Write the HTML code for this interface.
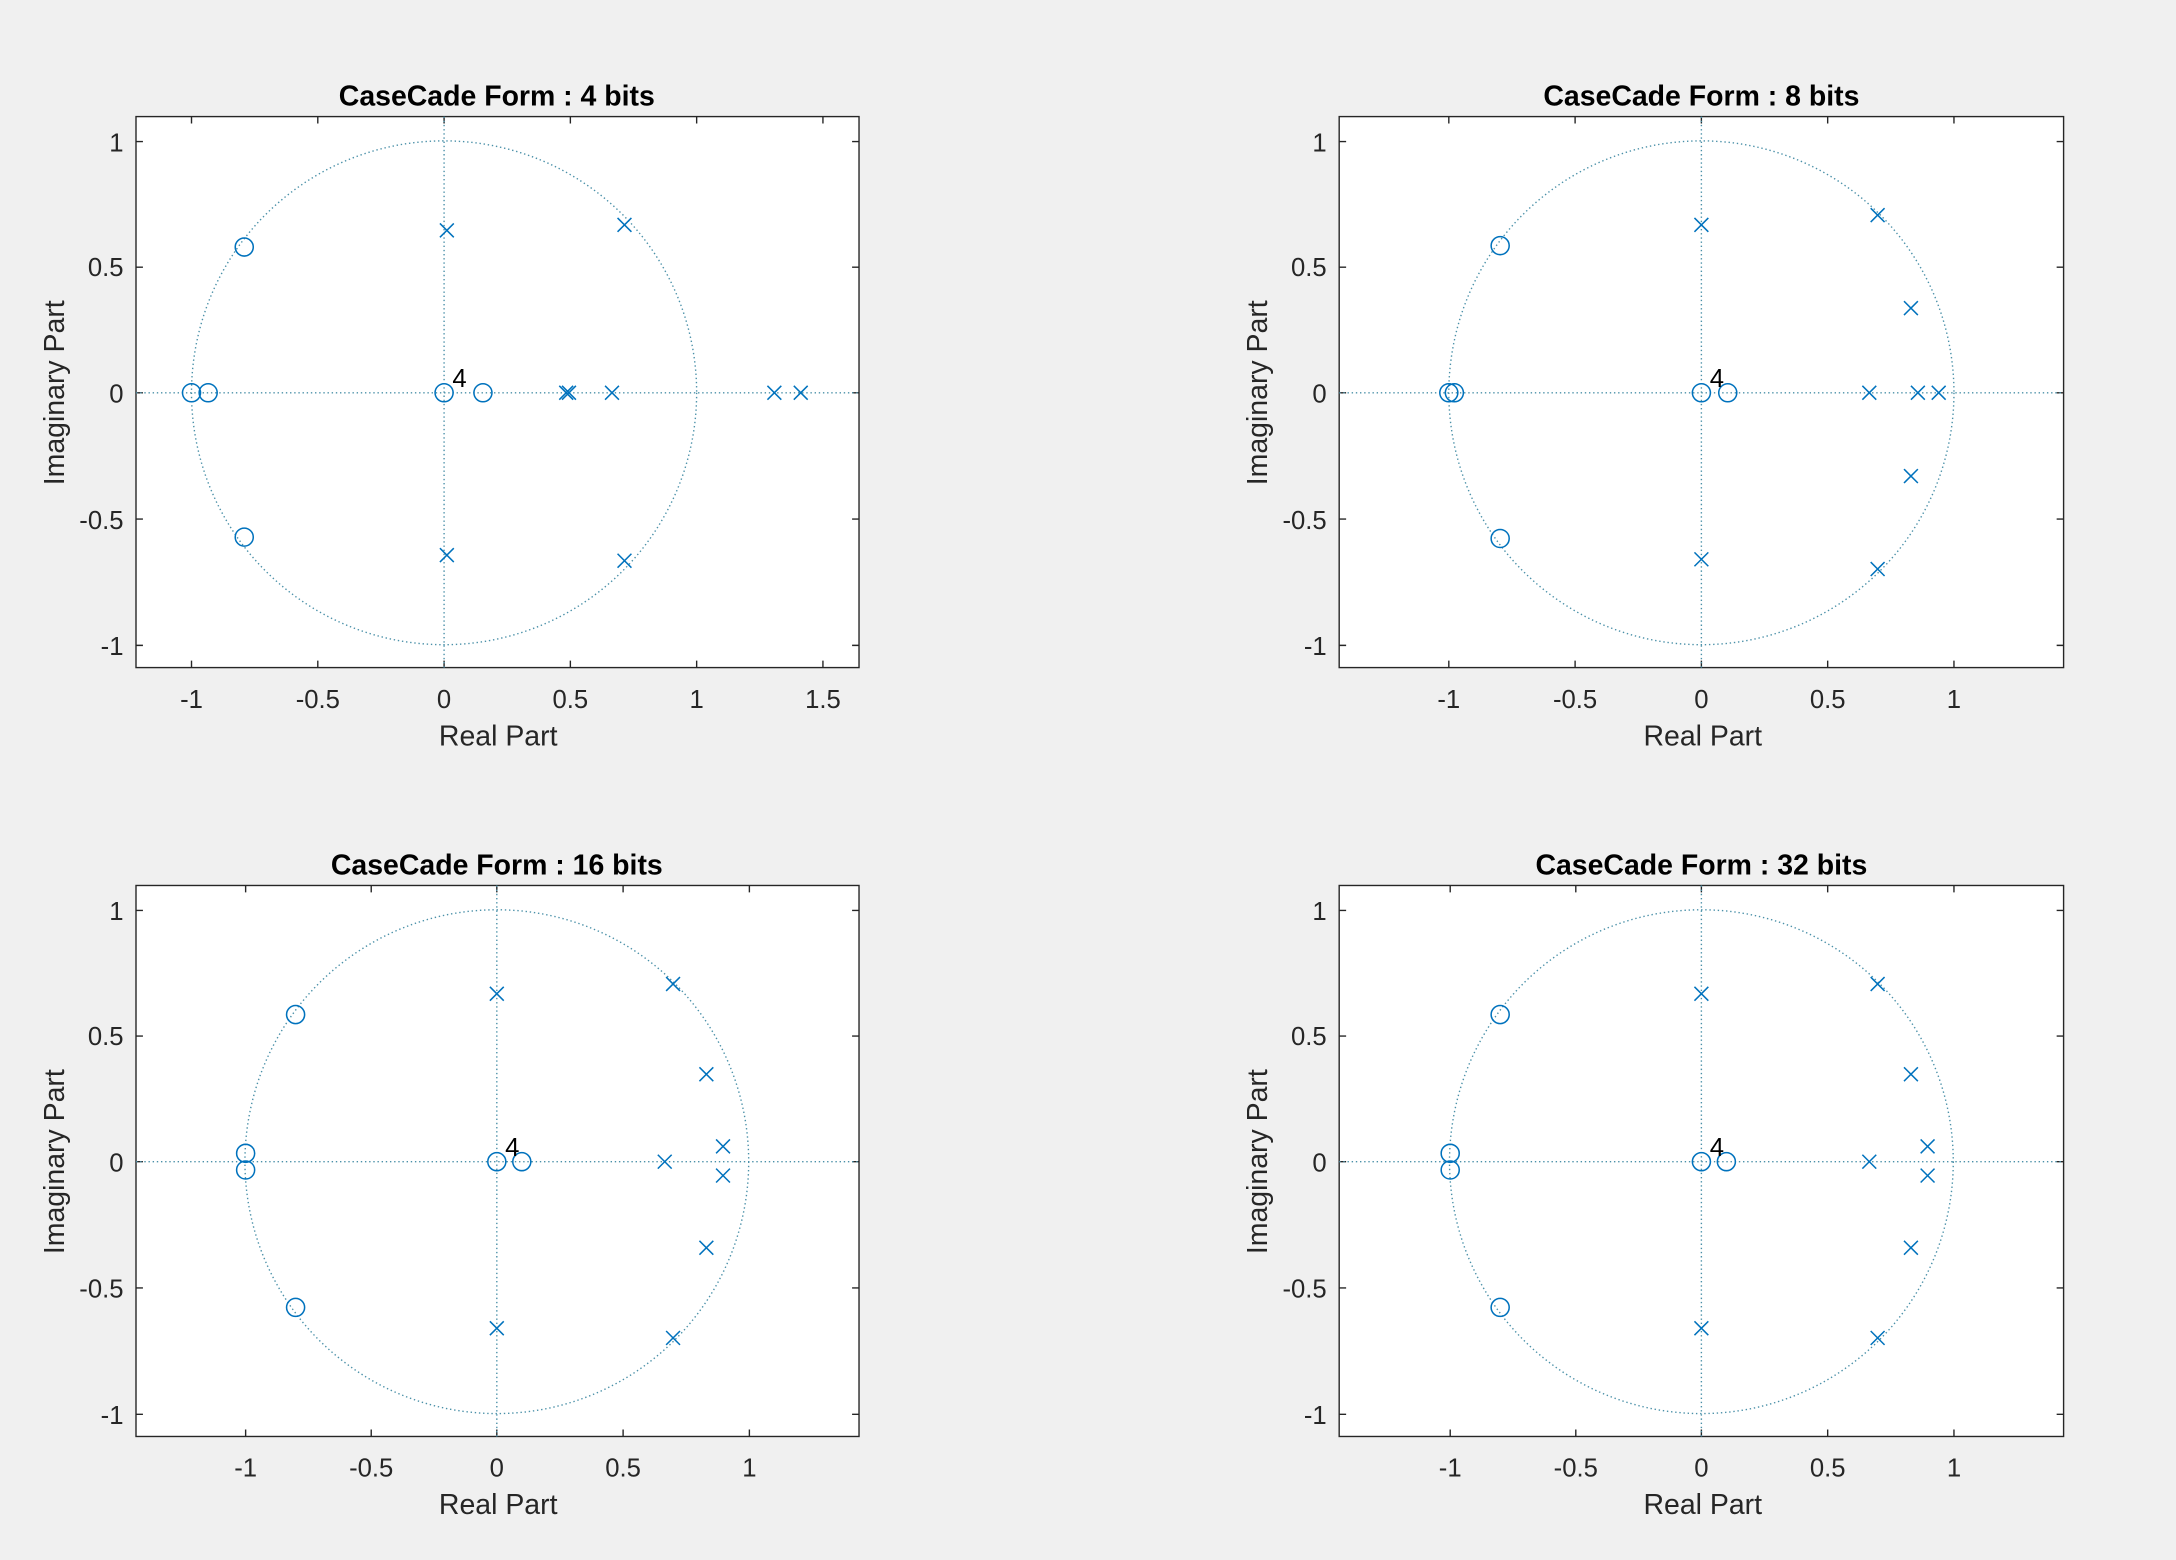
<!DOCTYPE html>
<html><head><meta charset="utf-8"><style>
html,body{margin:0;padding:0;background:#f0f0f0;}
svg{display:block}
text{font-family:"Liberation Sans",Arial,sans-serif;fill:#262626}
.t{font-size:20.5px;font-weight:bold;fill:#000}
.tk{font-size:18.5px}
.lb{font-size:20.5px}
.ax{fill:#fff;stroke:#262626;stroke-width:1}
.g{stroke:#4a90a8;stroke-width:1;stroke-dasharray:1 2;fill:none}
.m{stroke:#0072bd;stroke-width:1.1;fill:none}
.tick{stroke:#262626;stroke-width:1}
</style></head><body>
<svg width="2176" height="1560" viewBox="0 0 1568 1124" preserveAspectRatio="none" xmlns="http://www.w3.org/2000/svg">
<defs>
<path id="x" d="M-5,-5L5,5M-5,5L5,-5" class="m"/>
<circle id="o" r="6.5" class="m"/>
</defs>

<!-- Plot 1 -->
<g>
<rect class="ax" x="98" y="84" width="521" height="397"/>
<g class="tick">
<path d="M138,481v-5M229,481v-5M320,481v-5M411,481v-5M502,481v-5M593,481v-5M138,84v5M229,84v5M320,84v5M411,84v5M502,84v5M593,84v5"/>
<path d="M98,102h5M98,192.5h5M98,283h5M98,374h5M98,465h5M619,102h-5M619,192.5h-5M619,283h-5M619,374h-5M619,465h-5"/>
</g>
<ellipse class="g" cx="320" cy="283" rx="182" ry="181.5"/>
<path class="g" d="M98,283H619M320,84V481"/>
<use href="#o" x="138" y="283"/><use href="#o" x="150" y="283"/><use href="#o" x="176" y="178"/><use href="#o" x="176" y="387"/><use href="#o" x="320" y="283"/><use href="#o" x="348" y="283"/>
<use href="#x" x="322" y="166"/><use href="#x" x="322" y="400"/><use href="#x" x="450" y="162"/><use href="#x" x="450" y="404"/><use href="#x" x="408" y="283"/><use href="#x" x="410" y="283"/><use href="#x" x="441" y="283"/><use href="#x" x="558" y="283"/><use href="#x" x="577" y="283"/>
<text x="326" y="279" class="tk" style="fill:#000">4</text>
<g class="tk" text-anchor="middle"><text x="138" y="510">-1</text><text x="229" y="510">-0.5</text><text x="320" y="510">0</text><text x="411" y="510">0.5</text><text x="502" y="510">1</text><text x="593" y="510">1.5</text></g>
<g class="tk" text-anchor="end"><text x="89" y="109">1</text><text x="89" y="199">0.5</text><text x="89" y="290">0</text><text x="89" y="381">-0.5</text><text x="89" y="472">-1</text></g>
<text class="t" x="358" y="76" text-anchor="middle">CaseCade Form : 4 bits</text>
<text class="lb" x="359" y="537" text-anchor="middle">Real Part</text>
<text class="lb" transform="translate(46,283) rotate(-90)" text-anchor="middle">Imaginary Part</text>
</g>

<!-- Plot 2 -->
<g>
<rect class="ax" x="965" y="84" width="522" height="397"/>
<g class="tick">
<path d="M1044,481v-5M1135,481v-5M1226,481v-5M1317,481v-5M1408,481v-5M1044,84v5M1135,84v5M1226,84v5M1317,84v5M1408,84v5"/>
<path d="M965,102h5M965,192.5h5M965,283h5M965,374h5M965,465h5M1487,102h-5M1487,192.5h-5M1487,283h-5M1487,374h-5M1487,465h-5"/>
</g>
<ellipse class="g" cx="1226" cy="283" rx="182" ry="181.5"/>
<path class="g" d="M965,283H1487M1226,84V481"/>
<use href="#o" x="1044" y="283"/><use href="#o" x="1048" y="283"/><use href="#o" x="1081" y="177"/><use href="#o" x="1081" y="388"/><use href="#o" x="1226" y="283"/><use href="#o" x="1245" y="283"/>
<use href="#x" x="1226" y="162"/><use href="#x" x="1226" y="403"/><use href="#x" x="1353" y="155"/><use href="#x" x="1353" y="410"/><use href="#x" x="1377" y="222"/><use href="#x" x="1377" y="343"/><use href="#x" x="1347" y="283"/><use href="#x" x="1382" y="283"/><use href="#x" x="1397" y="283"/>
<text x="1232" y="279" class="tk" style="fill:#000">4</text>
<g class="tk" text-anchor="middle"><text x="1044" y="510">-1</text><text x="1135" y="510">-0.5</text><text x="1226" y="510">0</text><text x="1317" y="510">0.5</text><text x="1408" y="510">1</text></g>
<g class="tk" text-anchor="end"><text x="956" y="109">1</text><text x="956" y="199">0.5</text><text x="956" y="290">0</text><text x="956" y="381">-0.5</text><text x="956" y="472">-1</text></g>
<text class="t" x="1226" y="76" text-anchor="middle">CaseCade Form : 8 bits</text>
<text class="lb" x="1227" y="537" text-anchor="middle">Real Part</text>
<text class="lb" transform="translate(913,283) rotate(-90)" text-anchor="middle">Imaginary Part</text>
</g>

<!-- Plot 3 -->
<g>
<rect class="ax" x="98" y="638" width="521" height="397"/>
<g class="tick">
<path d="M177,1035v-5M267.5,1035v-5M358,1035v-5M449,1035v-5M540,1035v-5M177,638v5M267.5,638v5M358,638v5M449,638v5M540,638v5"/>
<path d="M98,656h5M98,746.5h5M98,837h5M98,928h5M98,1019h5M619,656h-5M619,746.5h-5M619,837h-5M619,928h-5M619,1019h-5"/>
</g>
<ellipse class="g" cx="358" cy="837" rx="181.5" ry="181.5"/>
<path class="g" d="M98,837H619M358,638V1035"/>
<use href="#o" x="177" y="831"/><use href="#o" x="177" y="843"/><use href="#o" x="213" y="731"/><use href="#o" x="213" y="942"/><use href="#o" x="358" y="837"/><use href="#o" x="376" y="837"/>
<use href="#x" x="358" y="716"/><use href="#x" x="358" y="957"/><use href="#x" x="485" y="709"/><use href="#x" x="485" y="964"/><use href="#x" x="509" y="774"/><use href="#x" x="509" y="899"/><use href="#x" x="479" y="837"/><use href="#x" x="521" y="826"/><use href="#x" x="521" y="847"/>
<text x="364" y="833" class="tk" style="fill:#000">4</text>
<g class="tk" text-anchor="middle"><text x="177" y="1064">-1</text><text x="267.5" y="1064">-0.5</text><text x="358" y="1064">0</text><text x="449" y="1064">0.5</text><text x="540" y="1064">1</text></g>
<g class="tk" text-anchor="end"><text x="89" y="663">1</text><text x="89" y="753">0.5</text><text x="89" y="844">0</text><text x="89" y="935">-0.5</text><text x="89" y="1026">-1</text></g>
<text class="t" x="358" y="630" text-anchor="middle">CaseCade Form : 16 bits</text>
<text class="lb" x="359" y="1091" text-anchor="middle">Real Part</text>
<text class="lb" transform="translate(46,837) rotate(-90)" text-anchor="middle">Imaginary Part</text>
</g>

<!-- Plot 4 -->
<g transform="translate(868,0)">
<rect class="ax" x="97" y="638" width="522" height="397"/>
<g class="tick">
<path d="M177,1035v-5M267.5,1035v-5M358,1035v-5M449,1035v-5M540,1035v-5M177,638v5M267.5,638v5M358,638v5M449,638v5M540,638v5"/>
<path d="M97,656h5M97,746.5h5M97,837h5M97,928h5M97,1019h5M619,656h-5M619,746.5h-5M619,837h-5M619,928h-5M619,1019h-5"/>
</g>
<ellipse class="g" cx="358" cy="837" rx="181.5" ry="181.5"/>
<path class="g" d="M97,837H619M358,638V1035"/>
<use href="#o" x="177" y="831"/><use href="#o" x="177" y="843"/><use href="#o" x="213" y="731"/><use href="#o" x="213" y="942"/><use href="#o" x="358" y="837"/><use href="#o" x="376" y="837"/>
<use href="#x" x="358" y="716"/><use href="#x" x="358" y="957"/><use href="#x" x="485" y="709"/><use href="#x" x="485" y="964"/><use href="#x" x="509" y="774"/><use href="#x" x="509" y="899"/><use href="#x" x="479" y="837"/><use href="#x" x="521" y="826"/><use href="#x" x="521" y="847"/>
<text x="364" y="833" class="tk" style="fill:#000">4</text>
<g class="tk" text-anchor="middle"><text x="177" y="1064">-1</text><text x="267.5" y="1064">-0.5</text><text x="358" y="1064">0</text><text x="449" y="1064">0.5</text><text x="540" y="1064">1</text></g>
<g class="tk" text-anchor="end"><text x="88" y="663">1</text><text x="88" y="753">0.5</text><text x="88" y="844">0</text><text x="88" y="935">-0.5</text><text x="88" y="1026">-1</text></g>
<text class="t" x="358" y="630" text-anchor="middle">CaseCade Form : 32 bits</text>
<text class="lb" x="359" y="1091" text-anchor="middle">Real Part</text>
<text class="lb" transform="translate(45,837) rotate(-90)" text-anchor="middle">Imaginary Part</text>
</g>
</svg>
</body></html>
